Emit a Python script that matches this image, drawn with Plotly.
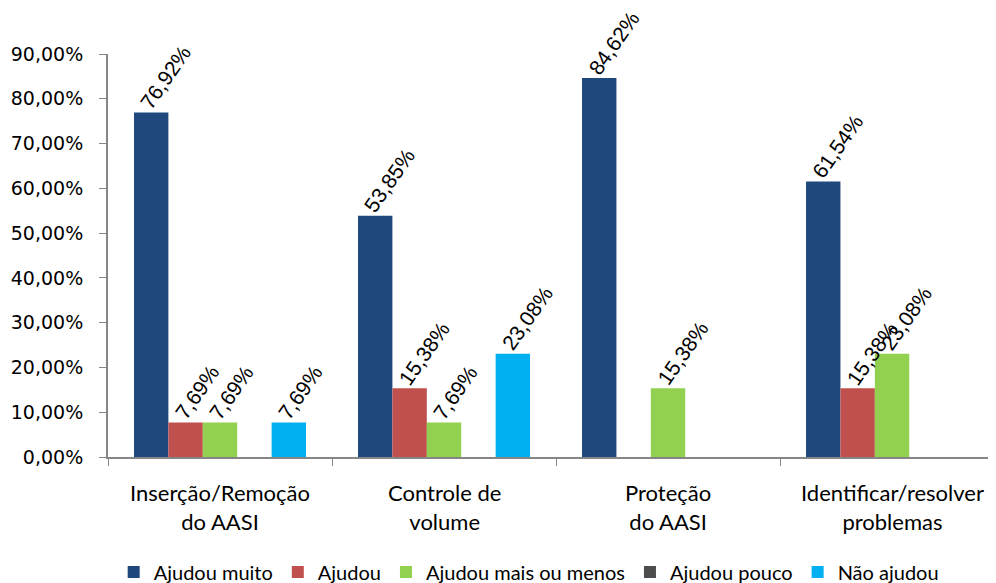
import plotly.graph_objects as go

categories = ["Inserção/Remoção do AASI", "Controle de volume", "Proteção do AASI", "Identificar/resolver problemas"]
category_labels = ["Inserção/Remoção<br>do AASI", "Controle de<br>volume", "Proteção<br>do AASI", "Identificar/resolver<br>problemas"]
series_names = ["Ajudou muito", "Ajudou", "Ajudou mais ou menos", "Ajudou pouco", "Não ajudou"]
ajudou_muito = [76.92, 53.85, 84.62, 61.54]
ajudou = [7.69, 15.38, None, 15.38]
ajudou_mais_ou_menos = [7.69, 7.69, 15.38, 23.08]
ajudou_pouco = [None, None, None, None]
nao_ajudou = [7.69, 23.08, None, None]
y_ticks = [0, 10, 20, 30, 40, 50, 60, 70, 80, 90]
y_tick_labels = ["0,00%", "10,00%", "20,00%", "30,00%", "40,00%", "50,00%", "60,00%", "70,00%", "80,00%", "90,00%"]

series = [ajudou_muito, ajudou, ajudou_mais_ou_menos, ajudou_pouco, nao_ajudou]
colors = ["#1F497D", "#C0504D", "#92D050", "#4D4D4D", "#00B0F0"]

bargap = 0.232
n = len(series)
bar_w = (1 - bargap) / n

fig = go.Figure()
for name, vals, col in zip(series_names, series, colors):
    fig.add_trace(go.Bar(
        name=name, x=categories, y=vals, marker=dict(color=col, line=dict(width=0)),
    ))

annotations = []
for i, vals in enumerate(series):
    for j, v in enumerate(vals):
        if v is None:
            continue
        annotations.append(dict(
            x=j + (i - (n - 1) / 2) * bar_w, y=v, xref="x", yref="y",
            text=f"{v:.2f}%".replace(".", ","), showarrow=False,
            textangle=-55, xanchor="left", yanchor="bottom",
            xshift=-17, yshift=-2, borderpad=0,
            font=dict(family="Liberation Sans, Arial", size=21, color="#000000"),
        ))

lab_font = dict(family="Lato", size=22, color="#000000")
for cat, lab in zip(categories, category_labels):
    annotations.append(dict(x=cat, y=0, xref="x", yref="paper", text=lab, showarrow=False,
                            xanchor="center", yanchor="top", yshift=-20, font=lab_font))

fig.update_layout(
    width=988, height=575,
    margin=dict(l=100, r=0, t=46, b=126),
    paper_bgcolor="white", plot_bgcolor="white",
    barmode="group", bargap=bargap, bargroupgap=0,
    showlegend=True,
    legend=dict(orientation="h", xref="container", yref="container",
                x=0.527, xanchor="center", y=0.019, yanchor="middle",
                font=dict(family="Lato", size=20, color="#000000"),
                traceorder="normal"),
    annotations=annotations,
)
fig.update_xaxes(
    type="category", range=[-0.5, 3.464], automargin=False,
    showline=True, linecolor="#868686", linewidth=2,
    ticks="outside", tickson="boundaries", ticklen=7, tickcolor="#868686", tickwidth=1,
    showticklabels=False,
    showgrid=False, zeroline=False,
)
fig.update_yaxes(
    range=[0, 90], tickvals=y_ticks, ticktext=y_tick_labels, automargin=False,
    showline=True, linecolor="#868686", linewidth=2,
    ticks="outside", ticklen=7, tickcolor="#868686", tickwidth=1,
    tickfont=dict(family="DejaVu Sans", size=19, color="#000000"),
    ticklabelstandoff=12,
    showgrid=False, zeroline=False,
)
fig.write_html("out.html")
